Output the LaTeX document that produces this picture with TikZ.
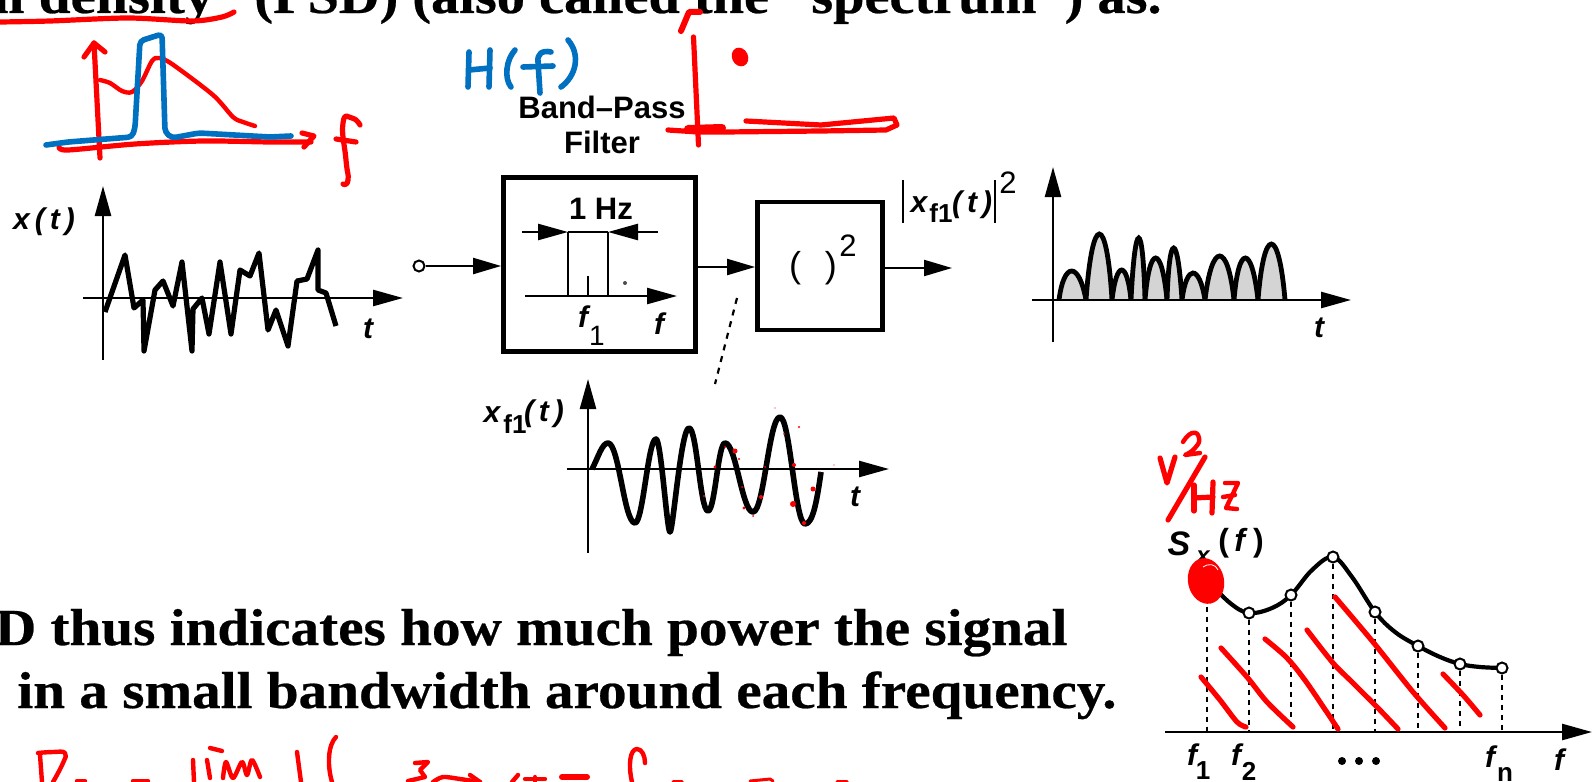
\documentclass[tikz,border=0pt]{standalone}
\usepackage{fontspec}
\usetikzlibrary{arrows.meta,calc}
\setmainfont{Liberation Serif}
\newfontfamily\sansf{Liberation Sans}
\newfontfamily\slidef[FakeStretch=1.1,BoldFeatures={FakeStretch=1.1,FakeBold=0.5}]{Liberation Serif}
\definecolor{penred}{RGB}{255,0,0}
\definecolor{penblue}{RGB}{0,112,192}
\tikzset{
  redpen/.style={draw=penred,line width=2.6pt,line cap=round,line join=round},
  bluepen/.style={draw=penblue,line width=2.8pt,line cap=round,line join=round},
  axisline/.style={draw=black,line width=1.25pt,-{Triangle[length=15pt,width=8pt]}},
  thinline/.style={draw=black,line width=1.2pt},
  sigline/.style={draw=black,line width=2.6pt,line join=round},
  flowline/.style={draw=black,line width=1.1pt,-{Triangle[length=14pt,width=8pt]}},
  blockbox/.style={draw=black,line width=2.4pt,inner sep=0pt,fill=white},
  slidetext/.style={inner sep=0pt,font=\slidef\fontsize{26}{30}\selectfont\bfseries},
  sanslabel/.style={inner sep=0pt,font=\sansf\fontsize{15.5}{18}\selectfont\bfseries,text=black},
  mathlabel/.style={inner sep=0pt,font=\sansf\fontsize{15}{18}\selectfont\bfseries\itshape,text=black},
  ticklabel/.style={inner sep=0pt,font=\sansf\fontsize{13}{15}\selectfont\bfseries,text=black},
  dotnode/.style={circle,draw=black,line width=1pt,fill=white,minimum size=5.5pt,inner sep=0pt},
  sampledot/.style={circle,draw=black,line width=1pt,fill=white,minimum size=5.5pt,inner sep=0pt},
  drop/.style={draw=black,line width=1pt,dash pattern=on 2.5pt off 2.5pt},
  humpfill/.style={draw=black,line width=2.4pt,fill=black!17},
}
\newcommand{\humpat}[4]{%
  \draw[humpfill] (#1,300) .. controls ({#1+(#2-#1)*0.45},{300-(300-#3)/0.75}) and ({#4-(#4-#2)*0.45},{300-(300-#3)/0.75}) .. (#4,300);}
\begin{document}
\begin{tikzpicture}[x=0.5pt,y=-0.5pt]
\clip (0,0) rectangle (1593,781);
\fill[white] (0,0) rectangle (1593,781);

%% slide text
\node[slidetext,anchor=base east] (t1) at (214,13) {al density};
\node[slidetext,anchor=base west,font=\slidef\fontsize{25.6}{30}\selectfont\bfseries] (t2) at (254,13) {(PSD) (also called the “spectrum”) as.};
\node[slidetext,anchor=base east] (t3) at (1068,645) {D thus indicates how much power the signal};
\node[slidetext,anchor=base east] (t4) at (1117,708) {in a small bandwidth around each frequency.};

%% x(t) plot
\coordinate (xa0) at (103,360); \coordinate (xa1) at (103,186);
\coordinate (xb0) at (83,298);  \coordinate (xb1) at (403,298);
\draw[axisline] (xa0) -- (xa1);
\draw[axisline] (xb0) -- (xb1);
\draw[sigline] (105,312) -- (125,255) -- (134,308) -- (143,300) -- (144,351) -- (155,290) -- (163,281) -- (173,306) -- (182,262) -- (192,351) -- (193,309) -- (202,298) -- (209,334) -- (220,262) -- (231,334) -- (240,270) -- (250,276) -- (259,253) -- (268,330) -- (276,310) -- (288,346) -- (297,281) -- (307,279) -- (318,250) -- (318,290) -- (326,293) -- (336,326);
\node[mathlabel] (lx) at (44,222) {x\,(\,t\,)};
\node[mathlabel] (lt1) at (368,329) {t};

%% blocks
\node[sanslabel] (bp1) at (602,107) {Band–Pass};
\node[sanslabel] (bp2) at (602,142) {Filter};
\node[dotnode] (inp) at (419,266) {};
\node[blockbox,minimum width=96pt,minimum height=87pt] (bpf) at (599.5,264.5) {};
\node[blockbox,minimum width=62.5pt,minimum height=64pt] (sq) at (820,266) {};
\coordinate (sqout) at (952,268);
\coordinate (flow) at (700,267);
\draw[flowline] (inp) -- (bpf.west |- inp);
\draw[flowline] (bpf.east |- flow) -- (sq.west |- flow);
\draw[flowline] (sq.east |- sqout) -- (sqout);
\node[font=\sansf\fontsize{18}{20}\selectfont,inner sep=0pt] (sqlab) at (813,268) {(\,\,\,\,)};
\node[font=\sansf\fontsize{15.5}{18}\selectfont,inner sep=0pt] (sqexp) at (848,246) {2};

%% filter inset
\coordinate (fa0) at (525,296); \coordinate (fa1) at (677,296);
\coordinate (fl0) at (522,232); \coordinate (fl1) at (568,232);
\coordinate (fr0) at (658,232); \coordinate (fr1) at (608,232);
\coordinate (fc0) at (588,296); \coordinate (fc1) at (588,276);
\draw[thinline] (fl1) -- (fr1);
\draw[thinline] (fl1) -- (fl1 |- fa0);
\draw[thinline] (fr1) -- (fr1 |- fa0);
\draw[thinline] (fc0) -- (fc1);
\draw[axisline] (fa0) -- (fa1);
\draw[axisline] (fl0) -- (fl1);
\draw[axisline] (fr0) -- (fr1);
\node[sanslabel] (hz) at (601,209) {1 Hz};
\node[mathlabel] (f1a) at (583,317) {f};
\node[ticklabel,font=\sansf\fontsize{14}{16}\selectfont] (f1b) at (597,336) {1};
\node[mathlabel] (fb) at (659,324) {f};
\fill[black!70] (625,283) circle[radius=1pt];

%% output label
\draw[thinline] (903,180) -- (903,223);
\draw[thinline] (995,180) -- (995,223);
\node[mathlabel] (xf1a) at (919,205) {x};
\node[ticklabel] (xf1b) at (941,213) {f1};
\node[mathlabel] (xf1c) at (972,205) {(\,t\,)};
\node[font=\sansf\fontsize{15.5}{16}\selectfont,inner sep=0pt] (xf2) at (1008,183) {2};

%% squared signal plot
\humpat{1059}{1070}{271}{1086}
\humpat{1086}{1100}{234}{1112}
\humpat{1112}{1122}{270}{1131}
\humpat{1131}{1140}{238}{1145}
\humpat{1145}{1155}{258}{1167}
\humpat{1167}{1172}{248}{1182}
\humpat{1182}{1192}{273}{1205}
\humpat{1205}{1220}{256}{1234}
\humpat{1234}{1244}{258}{1258}
\humpat{1258}{1271}{244}{1285}
\coordinate (ya0) at (1053,342); \coordinate (ya1) at (1053,167);
\coordinate (yb0) at (1032,300); \coordinate (yb1) at (1351,300);
\draw[axisline] (ya0) -- (ya1);
\draw[axisline] (yb0) -- (yb1);
\node[mathlabel] (lt2) at (1319,328) {t};

%% dotted pointer
\coordinate (dd0) at (737,298); \coordinate (dd1) at (715,384);
\draw[draw=black,line width=1.1pt,dash pattern=on 3pt off 3pt] (dd0) -- (dd1);

%% x_f1(t) plot
\coordinate (za0) at (588,553); \coordinate (za1) at (588,379);
\coordinate (zb0) at (567,469); \coordinate (zb1) at (889,469);
\draw[axisline] (za0) -- (za1);
\draw[axisline] (zb0) -- (zb1);
\draw[sigline,line width=2.8pt] (592,469) .. controls (598,458) and (602,443) .. (608,443)
  .. controls (619,443) and (624,523) .. (635,523)
  .. controls (643,523) and (648,439) .. (656,439)
  .. controls (661,439) and (667,532) .. (670,532)
  .. controls (673,532) and (681,428) .. (689,428)
  .. controls (697,428) and (700,511) .. (708,511)
  .. controls (715,511) and (718,443) .. (725,443)
  .. controls (736,443) and (742,512) .. (753,512)
  .. controls (764,512) and (769,417) .. (780,417)
  .. controls (790,417) and (795,524) .. (805,524)
  .. controls (813,524) and (817,500) .. (821,472);
\node[mathlabel] (lzx) at (492,415) {x};
\node[ticklabel] (lzf) at (515,424) {f1};
\node[mathlabel] (lzt) at (544,414) {(\,t\,)};
\node[mathlabel] (lt3) at (855,497) {t};
\foreach \sx/\sy/\sr in {735/451/1.25,813/489/1.25,793/504/1.5,804/523/1,761/497/1,744/508/.8,794/465/1,715/467/.8,704/496/.6,725/447/.5,739/459/.6,765/467/.5,742/487/.5,753/516/.5,784/434/.5,799/427/.6,775/408/.35,834/465/.35,820/472/.35}
  \fill[penred] (\sx,\sy) circle[radius=\sr pt];

%% S_x(f) plot
\coordinate (sb0) at (1165,732); \coordinate (sb1) at (1592,732);
\coordinate (ax1) at (1207,732); \coordinate (ax2) at (1249,732); \coordinate (ax3) at (1291,732); \coordinate (ax4) at (1333,732);
\coordinate (ax5) at (1375,732); \coordinate (ax6) at (1418,732); \coordinate (ax7) at (1460,732); \coordinate (ax8) at (1502,732);
\draw[sigline,line width=2.1pt] plot[smooth,tension=0.6] coordinates {(1207,580) (1230,603) (1249,613) (1272,608) (1291,595) (1312,570) (1333,557) (1352,577) (1375,612) (1395,632) (1418,646) (1440,657) (1460,664) (1480,667) (1502,668)};
\node[sampledot] (p1) at (1207,580) {};
\node[sampledot] (p2) at (1249,613) {};
\node[sampledot] (p3) at (1291,595) {};
\node[sampledot] (p4) at (1333,557) {};
\node[sampledot] (p5) at (1375,612) {};
\node[sampledot] (p6) at (1418,646) {};
\node[sampledot] (p7) at (1460,664) {};
\node[sampledot] (p8) at (1502,668) {};
\foreach \i in {1,...,8} \draw[drop] (p\i) -- (ax\i);
\draw[axisline] (sb0) -- (sb1);
\node[mathlabel,font=\sansf\fontsize{17}{18}\selectfont\bfseries\itshape] (ss) at (1179,544) {S};
\node[mathlabel,font=\sansf\fontsize{12}{14}\selectfont\bfseries\itshape] (sx) at (1203,557) {x};
\node[mathlabel,font=\sansf\fontsize{16}{18}\selectfont\bfseries] (sf) at (1241,543) {(\,\textit{f}\,)};
\node[mathlabel] (f1l) at (1192,755) {f};
\node[ticklabel] (f1s) at (1203,771) {1};
\node[mathlabel] (f2l) at (1236,755) {f};
\node[ticklabel] (f2s) at (1249,771) {2};
\foreach \dx in {1342,1359,1376} \fill[black] (\dx,761) circle[radius=2pt];
\node[mathlabel] (fnl) at (1490,757) {f};
\node[ticklabel] (fns) at (1505,774) {n};
\node[mathlabel] (fl) at (1559,760) {f};

%% red blob
\fill[penred,rotate around={12:(1206,581)}] (1206,581) ellipse[x radius=9pt,y radius=11.5pt];
\draw[white,line width=.4pt] (1203,567) .. controls (1208,563) and (1216,564) .. (1218,570);

%% red hatch
\draw[redpen] plot[smooth] coordinates {(1201,677) (1220,700) (1237,722) (1246,727)};
\draw[redpen] plot[smooth] coordinates {(1221,648) (1247,677) (1267,702) (1293,727)};
\draw[redpen] plot[smooth] coordinates {(1265,639) (1287,658) (1307,683) (1338,729)};
\draw[redpen] plot[smooth] coordinates {(1307,630) (1333,663) (1353,683) (1377,707) (1398,729)};
\draw[redpen] plot[smooth] coordinates {(1335,597) (1373,642) (1413,692) (1445,728)};
\draw[redpen] plot[smooth] coordinates {(1443,674) (1463,695) (1480,715)};

%% V^2/Hz
\draw[redpen] (1160,458) -- (1167,483) -- (1175,457);
\draw[redpen,line width=2.2pt] plot[smooth,tension=1] coordinates {(1183,442) (1192,433) (1199,438) (1195,448) (1185,455)} -- (1200,453);
\draw[redpen] (1205,457) -- (1168,520);
\draw[redpen] (1194,485) -- (1194,511);
\draw[redpen] (1213,482) -- (1212,513);
\draw[redpen] (1194,498) -- (1213,497);
\draw[redpen,line width=2.2pt] (1225,483) -- (1238,483) -- (1226,508) -- (1237,509);
\draw[redpen,line width=2.2pt] (1223,497) -- (1235,495);

%% top-left sketch
\draw[redpen] plot[smooth] coordinates {(0,22) (50,21) (128,18) (192,21) (222,17) (234,12)};
\draw[redpen] (100,158) -- (94,43);
\draw[redpen] (84,57) -- (94,43) -- (105,52);
\draw[redpen] plot[smooth] coordinates {(59,147) (68,150) (135,144) (203,141) (270,142) (311,142)};
\draw[redpen] (302,133) -- (314,136) -- (304,147);
\draw[redpen,line width=2.2pt] plot[smooth] coordinates {(100,80) (110,83) (122,91) (132,92) (142,81) (152,61) (159,58) (172,64) (213,95) (233,117) (243,122) (255,126)};
\draw[bluepen,rounded corners=2pt] (46,145) -- (68,142) -- (132,137) -- (135,128) -- (140,41) -- (162,34) -- (165,132) -- (172,138) -- (199,133) -- (270,137) -- (291,136);
\draw[redpen] plot[smooth,tension=1] coordinates {(360,125) (352,118) (343,123) (346,160) (348,180) (343,184)};
\draw[redpen] (336,139) -- (356,142);

%% H(f)
\draw[bluepen] (469,52) -- (468,87);
\draw[bluepen] (490,50) -- (489,87);
\draw[bluepen] (469,70) -- (490,68);
\draw[bluepen] (515,50) .. controls (506,60) and (504,78) .. (511,87);
\draw[bluepen] (551,52) .. controls (542,50) and (537,54) .. (538,62) -- (540,93);
\draw[bluepen] (523,67) -- (553,66);
\draw[bluepen] (568,40) .. controls (581,55) and (576,76) .. (561,87);

%% red axes, top middle
\draw[redpen,line width=3pt] (681,31) -- (689,12) -- (700,12);
\draw[redpen] (693.5,37) -- (698.5,145);
\fill[penred,rotate around={25:(740,57)}] (740,57) ellipse[x radius=4pt,y radius=4.8pt];
\draw[redpen] (668,130) -- (698,132) -- (725,132) -- (821,131) -- (886,130) -- (897,125) -- (894,118) -- (821,125) -- (746,121);
\draw[redpen,line width=4pt] (688,129) -- (722,128);

%% bottom handwriting
\draw[redpen,line width=2.2pt] (42,782) -- (40,755);
\draw[redpen,line width=2.2pt] plot[smooth,tension=.8] coordinates {(38,753) (53,752) (65,753) (63,763) (53,782)};
\draw[redpen,line width=2.2pt] (77,781) -- (85,781);
\draw[redpen,line width=2.2pt] (133,781) -- (148,781);
\draw[redpen,line width=2.2pt] (193,760) -- (194,782);
\draw[redpen,line width=2.2pt] (210,748) -- (222,751);
\draw[redpen,line width=2.2pt] (207,760) -- (210,778);
\draw[redpen,line width=2.2pt] plot[smooth] coordinates {(223,778) (226,762) (233,778) (242,762) (247,775) (252,760) (260,777)};
\draw[redpen,line width=2.2pt] (297,752) -- (301,782);
\draw[redpen,line width=2.2pt] (336,737) .. controls (328,745) and (327,765) .. (332,782);
\draw[redpen,line width=2.2pt] (415,763) -- (428,762) -- (420,770) -- (425,777) -- (408,781);
\draw[redpen,line width=2.2pt] plot[smooth] coordinates {(433,782) (443,777) (460,779) (480,782)};
\draw[redpen,line width=2.2pt] (470,775) -- (480,782);
\draw[redpen,line width=2.2pt] (512,782) -- (518,775);
\draw[redpen,line width=2.2pt] (525,779) -- (545,779);
\draw[redpen,line width=2.2pt] (535,777) -- (535,782);
\draw[redpen,line width=3pt] (562,777) -- (587,777);
\draw[redpen,line width=2.2pt] (632,782) .. controls (628,765) and (630,749) .. (637,749) .. controls (642,749) and (645,756) .. (645,763);
\draw[redpen,line width=1.5pt] (673,781) -- (682,781);
\draw[redpen,line width=1.5pt] (750,781) -- (770,779) -- (773,781);
\draw[redpen,line width=1.5pt] (837,781) -- (847,781);
\end{tikzpicture}
\end{document}
